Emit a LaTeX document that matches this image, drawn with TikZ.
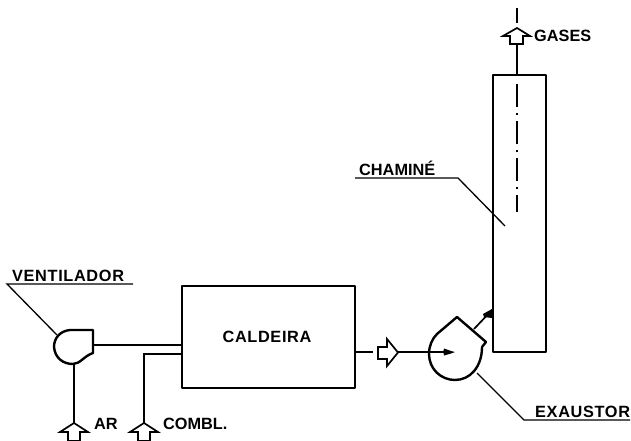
\documentclass[tikz,border=0pt]{standalone}
\usepackage{fontspec}
\setmainfont{Liberation Sans}
\newfontfamily\widefont[LetterSpace=4,BoldFont={Liberation Sans Bold}]{Liberation Sans}
\begin{document}
\begin{tikzpicture}[x=1pt,y=-1pt,
  thick line/.style={line width=2.4pt,line join=round},
  pipe/.style={line width=1.7pt},
  leader/.style={line width=1.3pt},
  lab/.style={font=\bfseries\fontsize{16.3}{18}\selectfont,inner sep=0pt,anchor=base west},
  widelab/.style={font=\widefont\bfseries\fontsize{16.3}{18}\selectfont,inner sep=0pt,anchor=base west},
  hollowarrow/.style={line width=1.7pt,line join=miter,fill=white},
  dot/.style={fill=black,draw=none}]
\useasboundingbox (0,0) rectangle (631,441);
% equipment
\node[thick line,draw,minimum width=173pt,minimum height=102pt,inner sep=0pt,anchor=north west] (cald) at (181,285) {};
\node[widelab,anchor=center] (caldtxt) at (267,337) {CALDEIRA};
\node[thick line,draw,minimum width=53pt,minimum height=277pt,inner sep=0pt,anchor=north west] (chim) at (492,74) {};
% fan
\draw[thick line] (93,330) -- (70,330) .. controls (60,331) and (54,338) .. (54,347)
  .. controls (55,358) and (63,364) .. (73,364) .. controls (80,364) and (84,356) .. (93,353) -- cycle;
\coordinate (fanout) at (93,345);
\coordinate (fanbot) at (74,364);
% exhauster
\draw[thick line] (482,347) -- (486,342) -- (457,317) -- (437,334)
  .. controls (432,339) and (429,346) .. (429,354)
  .. controls (429,369) and (441,380) .. (455,380)
  .. controls (470,380) and (482,367) .. (482,347);
% pipes
\coordinate (caldin1) at (cald.west |- fanout);
\draw[pipe,line width=2pt] (fanout) -- (caldin1);
\coordinate (caldin2) at (181,354);
\coordinate (combelbow) at (144,354);
\coordinate (combbot) at (144,424);
\draw[pipe] (caldin2) -- (combelbow) -- (combbot);
\coordinate (arbot) at (74,424);
\draw[pipe] (fanbot) -- (arbot);
% arrows at bottom
\draw[hollowarrow] (74,423) -- (60,432) -- (68,432) -- (68,441) -- (80,441) -- (80,432) -- (88,432) -- cycle;
\draw[hollowarrow] (144,423) -- (130,432) -- (138,432) -- (138,441) -- (150,441) -- (150,432) -- (158,432) -- cycle;
% outlet caldeira
\coordinate (caldout) at (373,352);
\draw[pipe] (cald.east |- caldout) -- (caldout);
\draw[hollowarrow] (398,352.5) -- (387,339) -- (387,347) -- (378,347) -- (378,359) -- (387,359) -- (387,366) -- cycle;
\coordinate (inlet) at (448,352);
\draw[pipe] (398,352) -- (inlet);
\fill[dot] (444,348.5) -- (451,351) -- (455,352) -- (451,353.5) -- (444,355.5) .. controls (443,353) and (443,350) .. (444,348.5) -- cycle;
% exhauster to chimney
\coordinate (exout) at (474,329);
\coordinate (chimin) at (492,310);
\draw[pipe] (exout) -- (chimin);
\fill[dot] (492,309) -- (492,318) -- (484,317) -- (483,314) -- cycle;
% gases
\coordinate (chimtop) at (517,74);
\coordinate (garrow) at (517,44);
\draw[pipe] (chimtop) -- (garrow);
\draw[hollowarrow] (517,28) -- (503,36) -- (510,36) -- (510,44) -- (523,44) -- (523,36) -- (530,36) -- cycle;
\draw[pipe,line width=1.2pt] (517,8) -- (517,23);
\draw[line width=1.3pt,dash pattern=on 23pt off 6pt on 2pt off 6pt] (517,84) -- (517,212);
% labels
\node[widelab] (ventilador) at (12,281.5) {VENTILADOR};
\node[lab] (ar) at (94,429) {AR};
\node[lab] (combl) at (163,429) {COMBL.};
\node[lab] (gases) at (534,41.5) {GASES};
\node[lab] (chamine) at (359,175) {CHAMIN\'E};
\node[widelab] (exaustor) at (535,417) {EXAUSTOR};
% leaders
\coordinate (vend) at (133,284);
\coordinate (vstart) at (7,284);
\coordinate (vfan) at (57,335);
\draw[leader] (vend) -- (vstart) -- (vfan);
\coordinate (cend) at (355,178);
\coordinate (ckink) at (458,178);
\coordinate (ctip) at (505,226);
\draw[leader] (cend) -- (ckink) -- (ctip);
\coordinate (eend) at (630,420);
\coordinate (ekink) at (524,420);
\coordinate (etip) at (477,373);
\draw[leader] (eend) -- (ekink) -- (etip);
\end{tikzpicture}
\end{document}
